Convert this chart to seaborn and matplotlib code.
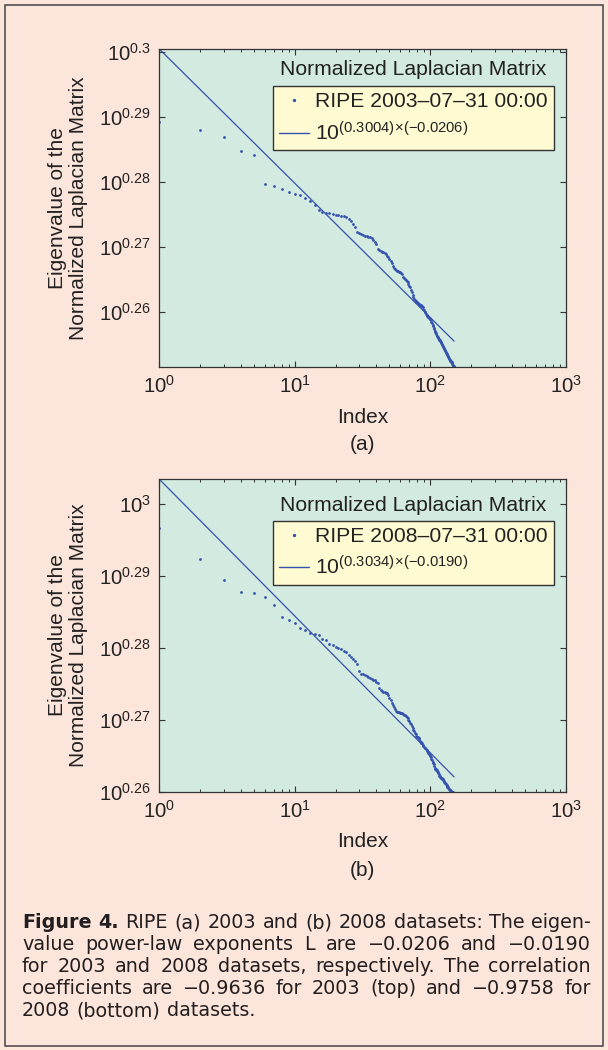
import numpy as np
import pandas as pd
import matplotlib
matplotlib.use("Agg")
import matplotlib.pyplot as plt
import seaborn as sns
from matplotlib.ticker import FixedLocator, FixedFormatter, LogLocator, NullFormatter, NullLocator
from matplotlib.lines import Line2D
from matplotlib.patches import Rectangle

# ---------------- data ----------------
index = list(range(1, 151))

# log10 of eigenvalue, RIPE 2003-07-31 (panel a)
exp_2003 = [
    0.28919, 0.28801, 0.28689, 0.28479, 0.28418, 0.27965, 0.27939, 0.27893, 0.27851, 0.27818,
    0.27795, 0.27755, 0.27705, 0.27640, 0.27570, 0.27545, 0.27530, 0.27516, 0.27505, 0.27496,
    0.27490, 0.27482, 0.27470, 0.27455, 0.27430, 0.27395, 0.27360, 0.27311, 0.27235, 0.27215,
    0.27200, 0.27188, 0.27175, 0.27165, 0.27158, 0.27152, 0.27147, 0.27112, 0.27080, 0.27046,
    0.26965, 0.26950, 0.26940, 0.26930, 0.26918, 0.26905, 0.26888, 0.26865, 0.26843, 0.26810,
    0.26785, 0.26750, 0.26705, 0.26685, 0.26665, 0.26645, 0.26635, 0.26628, 0.26620, 0.26612,
    0.26598, 0.26580, 0.26545, 0.26528, 0.26512, 0.26500, 0.26485, 0.26462, 0.26435, 0.26410,
    0.26383, 0.26345, 0.26310, 0.26270, 0.26232, 0.26205, 0.26182, 0.26170, 0.26158, 0.26150,
    0.26142, 0.26134, 0.26125, 0.26117, 0.26110, 0.26103, 0.26095, 0.26075, 0.26055, 0.26035,
    0.26010, 0.25997, 0.25978, 0.25955, 0.25940, 0.25930, 0.25920, 0.25910, 0.25903, 0.25897,
    0.25880, 0.25855, 0.25830, 0.25800, 0.25790, 0.25765, 0.25740, 0.25710, 0.25690, 0.25675,
    0.25660, 0.25642, 0.25630, 0.25618, 0.25605, 0.25592, 0.25580, 0.25568, 0.25552, 0.25538,
    0.25525, 0.25514, 0.25500, 0.25480, 0.25465, 0.25450, 0.25440, 0.25425, 0.25412, 0.25395,
    0.25380, 0.25365, 0.25355, 0.25340, 0.25325, 0.25310, 0.25300, 0.25285, 0.25272, 0.25260,
    0.25253, 0.25247, 0.25240, 0.25235, 0.25225, 0.25210, 0.25195, 0.25182, 0.25172, 0.25162,
]

# log10 of eigenvalue, RIPE 2008-07-31 (panel b)
exp_2008 = [
    0.29665, 0.29227, 0.28934, 0.28777, 0.28759, 0.28707, 0.28596, 0.28428, 0.28382, 0.28347,
    0.28270, 0.28242, 0.28207, 0.28190, 0.28175, 0.28117, 0.28105, 0.28047, 0.28035, 0.28015,
    0.28000, 0.27980, 0.27955, 0.27935, 0.27900, 0.27870, 0.27840, 0.27810, 0.27770, 0.27680,
    0.27640, 0.27630, 0.27620, 0.27605, 0.27591, 0.27575, 0.27560, 0.27552, 0.27545, 0.27530,
    0.27505, 0.27440, 0.27415, 0.27400, 0.27388, 0.27382, 0.27376, 0.27370, 0.27340, 0.27305,
    0.27270, 0.27235, 0.27205, 0.27180, 0.27150, 0.27118, 0.27112, 0.27107, 0.27103, 0.27098,
    0.27093, 0.27088, 0.27083, 0.27072, 0.27062, 0.27050, 0.27038, 0.27024, 0.27000, 0.26982,
    0.26960, 0.26935, 0.26910, 0.26885, 0.26862, 0.26840, 0.26820, 0.26800, 0.26780, 0.26765,
    0.26755, 0.26745, 0.26725, 0.26710, 0.26695, 0.26680, 0.26670, 0.26645, 0.26630, 0.26620,
    0.26610, 0.26600, 0.26592, 0.26585, 0.26565, 0.26548, 0.26537, 0.26520, 0.26505, 0.26490,
    0.26475, 0.26450, 0.26435, 0.26415, 0.26400, 0.26380, 0.26355, 0.26330, 0.26320, 0.26313,
    0.26306, 0.26300, 0.26285, 0.26270, 0.26257, 0.26240, 0.26225, 0.26212, 0.26205, 0.26197,
    0.26190, 0.26187, 0.26180, 0.26172, 0.26165, 0.26152, 0.26140, 0.26127, 0.26117, 0.26110,
    0.26102, 0.26096, 0.26085, 0.26072, 0.26060, 0.26048, 0.26042, 0.26036, 0.26030, 0.26025,
    0.26018, 0.26012, 0.26005, 0.26001, 0.25998, 0.25995, 0.25990, 0.25985, 0.25980, 0.25975,
]

# fitted power law: log10(y) = intercept + slope * log10(x)
fit_2003 = (0.3004, -0.0206)
fit_2008 = (0.3034, -0.0190)

series_labels = ["RIPE 2003\u201307\u201331 00:00", "RIPE 2008\u201307\u201331 00:00"]
fit_labels = [r"$\mathregular{10^{(0.3004)\!\times\!(-0.0206)}}$",
              r"$\mathregular{10^{(0.3034)\!\times\!(-0.0190)}}$"]
legend_title = "Normalized Laplacian Matrix"
panel_tags = ["(a)", "(b)"]

ytick_exps = [0.26, 0.27, 0.28, 0.29, 0.30]
ytick_labels_a = [r"$\mathregular{10^{0.26}}$", r"$\mathregular{10^{0.27}}$", r"$\mathregular{10^{0.28}}$",
                  r"$\mathregular{10^{0.29}}$", r"$\mathregular{10^{0.3}}$"]
ytick_labels_b = [r"$\mathregular{10^{0.26}}$", r"$\mathregular{10^{0.27}}$", r"$\mathregular{10^{0.28}}$",
                  r"$\mathregular{10^{0.29}}$", r"$\mathregular{10^{3}}$"]
ylim_exps_a = (0.2516, 0.3004)
ylim_exps_b = (0.2600, 0.3035)

xtick_vals = [1, 10, 100, 1000]
xtick_labels = [r"$\mathregular{10^{0}}$", r"$\mathregular{10^{1}}$",
                r"$\mathregular{10^{2}}$", r"$\mathregular{10^{3}}$"]

caption_lines = [
    [("Figure", "bold"), ("4.", "bold"), ("RIPE", "normal"), ("(a)", "normal"), ("2003", "normal"),
     ("and", "normal"), ("(b)", "normal"), ("2008", "normal"), ("datasets:", "normal"),
     ("The", "normal"), ("eigen-", "normal")],
    [(w, "normal") for w in "value power-law exponents L are \u22120.0206 and \u22120.0190".split(" ")],
    [(w, "normal") for w in "for 2003 and 2008 datasets, respectively. The correlation".split(" ")],
    [(w, "normal") for w in "coefficients are \u22120.9636 for 2003 (top) and \u22120.9758 for".split(" ")],
    [(w, "normal") for w in "2008 (bottom) datasets.".split(" ")],
]

# ---------------- style ----------------
sns.set_style("ticks")
plt.rcParams["font.family"] = ["Liberation Sans", "DejaVu Sans"]
plt.rcParams["mathtext.fontset"] = "custom"
plt.rcParams["mathtext.rm"] = "Liberation Sans"
plt.rcParams["mathtext.it"] = "Liberation Sans:italic"
plt.rcParams["mathtext.bf"] = "Liberation Sans:bold"

PEACH = "#FCE5DA"
MINT = "#D3EAE0"
CREAM = "#FEFBD2"
BLUE = "#3452AE"
INK = "#222222"

W, H = 608, 1050
fig = plt.figure(figsize=(W / 100, H / 100), dpi=100, facecolor=PEACH)

# outer frame of the figure box
fig.patches.append(Rectangle((5 / W, 1 - 1046 / H), 598 / W, 1041 / H, transform=fig.transFigure,
                             fill=False, edgecolor="#444444", linewidth=1.1))

def px_axes(left, top, right, bottom):
    return [left / W, 1 - bottom / H, (right - left) / W, (bottom - top) / H]

ax_a = fig.add_axes(px_axes(159.3, 49, 565.7, 367))
ax_b = fig.add_axes(px_axes(159.3, 478.5, 565.7, 791.7))

panels = [
    (ax_a, exp_2003, fit_2003, series_labels[0], fit_labels[0], ytick_labels_a, ylim_exps_a, 0.8836, 0.934, 0),
    (ax_b, exp_2008, fit_2008, series_labels[1], fit_labels[1], ytick_labels_b, ylim_exps_b, 0.865, 0.915, 1),
]

for ax, exps, fit, slabel, flabel, ylabels, ylim_e, leg_top, title_y, k in panels:
    ax.set_facecolor(MINT)
    ax.set_xscale("log")
    ax.set_yscale("log")
    df = pd.DataFrame({"Index": index, "Eigenvalue": np.power(10.0, np.array(exps))})
    fit_df = pd.DataFrame({"Index": index,
                           "Fit": np.power(10.0, fit[0] + fit[1] * np.log10(np.array(index, dtype=float)))})
    sns.lineplot(data=fit_df, x="Index", y="Fit", ax=ax, color=BLUE, linewidth=0.9,
                 estimator=None, legend=False)
    sns.scatterplot(data=df, x="Index", y="Eigenvalue", ax=ax, color=BLUE, s=4, linewidth=0,
                    marker="o", legend=False)

    ax.set_xlim(1, 1000)
    ax.set_ylim(10 ** ylim_e[0], 10 ** ylim_e[1])

    ax.xaxis.set_major_locator(FixedLocator(xtick_vals))
    ax.xaxis.set_major_formatter(FixedFormatter(xtick_labels))
    ax.xaxis.set_minor_locator(LogLocator(base=10, subs=np.arange(2, 10)))
    ax.xaxis.set_minor_formatter(NullFormatter())
    ax.yaxis.set_major_locator(FixedLocator([10 ** e for e in ytick_exps]))
    ax.yaxis.set_major_formatter(FixedFormatter(ylabels))
    ax.yaxis.set_minor_locator(NullLocator())

    ax.tick_params(which="both", direction="in", top=True, right=True, color="#333333",
                   labelcolor=INK, labelsize=14.6)
    ax.tick_params(which="major", length=4, width=0.8)
    ax.tick_params(which="minor", length=2.2, width=0.7)
    ax.tick_params(axis="x", pad=6)
    ax.tick_params(axis="y", pad=6)
    for sp in ax.spines.values():
        sp.set_color("#333333")
        sp.set_linewidth(0.9)
        sp.set_visible(True)

    ax.set_xlabel("Index", fontsize=15, color=INK)
    ax.xaxis.set_label_coords(0.5, -0.128)
    ax.set_ylabel("Eigenvalue of the\nNormalized Laplacian Matrix", fontsize=15, color=INK,
                  linespacing=1.1)
    ax.yaxis.set_label_coords(-0.176, 0.5)

    handles = [Line2D([], [], ls="none", marker="o", markersize=1.4, color=BLUE),
               Line2D([], [], color=BLUE, linewidth=1.0)]
    leg = ax.legend(handles, [slabel, flabel], loc="upper right", bbox_to_anchor=(0.971, leg_top),
                    borderaxespad=0, fontsize=15.2, frameon=True, fancybox=False,
                    facecolor=CREAM, edgecolor="#333333", framealpha=1.0,
                    handlelength=1.4, handletextpad=0.3, borderpad=0.3, labelspacing=0.45)
    leg.get_frame().set_linewidth(1.0)
    for t in leg.get_texts():
        t.set_color(INK)
    ax.text(0.6255, title_y, legend_title, transform=ax.transAxes, ha="center", va="center",
            fontsize=15.2, color=INK)

# panel tags
fig.text(362.5 / W, 1 - 445 / H, panel_tags[0], ha="center", va="center", fontsize=15, color=INK)
fig.text(362.5 / W, 1 - 870 / H, panel_tags[1], ha="center", va="center", fontsize=15, color=INK)

# ---------------- justified caption ----------------
cap_family = ["DejaVu Sans"]
cap_size = 13.8
fig.canvas.draw()
renderer = fig.canvas.get_renderer()

def measure(word, weight):
    t = fig.text(0, 0, word, fontsize=cap_size, family=cap_family, weight=weight)
    w = t.get_window_extent(renderer).width
    t.remove()
    return w

space_w = measure("a a", "normal") - 2 * measure("a", "normal")
x_left, x_right = 22.0, 591.0
base0, step = 928.5, 21.9
for li, words in enumerate(caption_lines):
    widths = [measure(w, wt) for w, wt in words]
    last = li == len(caption_lines) - 1
    if last or len(words) < 2:
        gap = space_w
    else:
        gap = (x_right - x_left - sum(widths)) / (len(words) - 1)
    x = x_left
    y = base0 + li * step
    for (w, wt), ww in zip(words, widths):
        fig.text(x / W, 1 - y / H, w, fontsize=cap_size, family=cap_family, weight=wt,
                 color="#231F20", ha="left", va="baseline")
        x += ww + gap

fig.savefig("out.png", dpi=100, facecolor=PEACH)
